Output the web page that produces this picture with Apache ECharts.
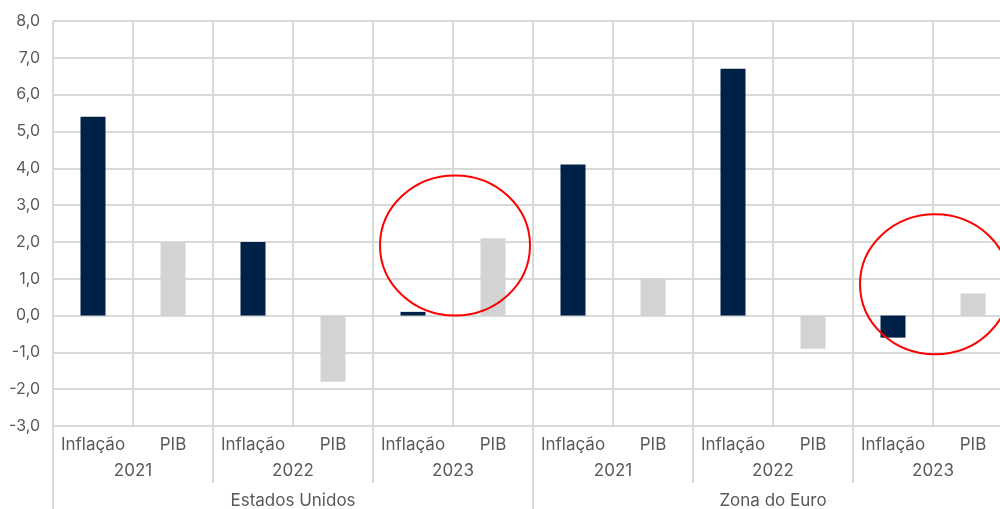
<!DOCTYPE html>
<html>
<head>
<meta charset="utf-8">
<script src="https://cdn.jsdelivr.net/npm/echarts@6/dist/echarts.min.js"></script>
<style>
  html, body { margin: 0; padding: 0; background: #fff; }
  #main { width: 1000px; height: 509px; }
</style>
</head>
<body>
<div id="main"></div>
<script>
// dados (variação %)
var paises = ['Estados Unidos', 'Zona do Euro'];
var anos = ['2021', '2022', '2023', '2021', '2022', '2023'];
var indicadores = ['Inflação', 'PIB'];
var inflacao = [5.4, 2.0, 0.1, 4.1, 6.7, -0.6];
var pib = [2.0, -1.8, 2.1, 1.0, -0.9, 0.6];
// centro dos círculos vermelhos (índice de fronteira entre categorias, valor y)
var destaques = [[5, 1.9], [11, 0.85]];

var categorias = [];
var dadosInf = [];
var dadosPib = [];
for (var i = 0; i < anos.length; i++) {
  categorias.push(indicadores[0], indicadores[1]);
  dadosInf.push(inflacao[i], null);
  dadosPib.push(null, pib[i]);
}

var corTexto = '#595959';
var corGrade = '#d9d9d9';
var fonte = 'Inter';

var myChart = echarts.init(document.getElementById('main'));

var option = {
  animation: false,
  backgroundColor: '#fff',
  // a área do gráfico passa da borda direita (cortada no original)
  grid: { left: 53, width: 960, top: 21, bottom: 83, containLabel: false, outerBoundsMode: 'none' },
  xAxis: [
    {
      type: 'category',
      data: categorias,
      position: 'bottom',
      axisLine: { show: true, lineStyle: { color: corGrade, width: 2 } },
      axisTick: { show: false },
      splitLine: { show: true, interval: 0, lineStyle: { color: corGrade, width: 2 } },
      axisLabel: { interval: 0, margin: 10, color: corTexto, fontSize: 17, fontFamily: fonte }
    },
    {
      type: 'category',
      data: anos,
      position: 'bottom',
      axisLine: { show: false },
      axisTick: { show: true, interval: 0, length: 57, lineStyle: { color: corGrade, width: 2 } },
      axisLabel: { interval: 0, margin: 36, color: corTexto, fontSize: 17, fontFamily: fonte }
    },
    {
      type: 'category',
      data: paises,
      position: 'bottom',
      axisLine: { show: false },
      axisTick: { show: true, interval: 0, length: 85, lineStyle: { color: corGrade, width: 2 } },
      axisLabel: { interval: 0, margin: 66, color: corTexto, fontSize: 17, fontFamily: fonte }
    }
  ],
  yAxis: {
    type: 'value',
    min: -3,
    max: 8,
    interval: 1,
    axisLine: { show: false },
    axisTick: { show: false },
    splitLine: { show: true, lineStyle: { color: corGrade, width: 2 } },
    axisLabel: {
      margin: 13,
      color: corTexto,
      fontSize: 16,
      fontFamily: fonte,
      formatter: function (v) { return v.toFixed(1).replace('.', ','); }
    }
  },
  series: [
    {
      name: 'Inflação',
      type: 'bar',
      xAxisIndex: 0,
      data: dadosInf,
      barWidth: 25,
      barGap: '-100%',
      itemStyle: { color: '#002147' }
    },
    {
      name: 'PIB',
      type: 'bar',
      xAxisIndex: 0,
      data: dadosPib,
      barWidth: 25,
      barGap: '-100%',
      itemStyle: { color: '#d3d3d3' }
    }
  ]
};

myChart.setOption(option);

// círculos vermelhos de destaque
function desenhaDestaques() {
  var graficos = [];
  for (var k = 0; k < destaques.length; k++) {
    var idx = destaques[k][0];
    var cx = (myChart.convertToPixel({ xAxisIndex: 0 }, idx - 1) + myChart.convertToPixel({ xAxisIndex: 0 }, idx)) / 2 + 2;
    var cy = myChart.convertToPixel({ yAxisIndex: 0 }, destaques[k][1]);
    graficos.push({
      type: 'ellipse',
      shape: { cx: cx, cy: cy, rx: 75, ry: 70 },
      style: { fill: 'none', stroke: '#ff0000', lineWidth: 2 },
      z: 100
    });
  }
  myChart.setOption({ graphic: graficos });
}
desenhaDestaques();
</script>
</body>
</html>
